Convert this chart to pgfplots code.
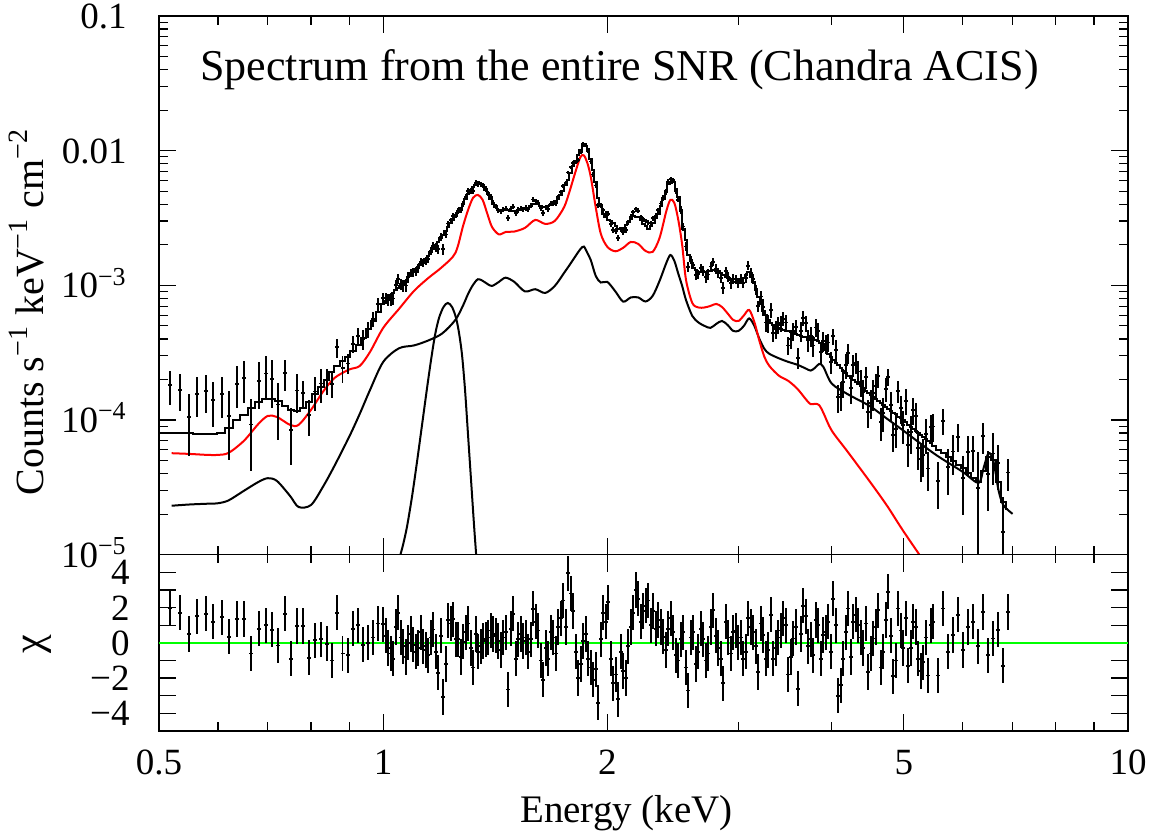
\documentclass[border=0pt]{standalone}
\usepackage{fontspec}
\setmainfont{Liberation Serif}
\usepackage{pgfplots}
\usepackage{pgfplotstable}
\pgfplotsset{compat=1.18}
\definecolor{pgred}{RGB}{255,0,0}
\definecolor{pggreen}{RGB}{0,255,0}

% data bins: energy, data, error, total model (step), chi
\pgfplotstableread{
E y ey m chi
0.517 1.809e-4 5.19e-5 7.98e-5 1.95
0.534 1.676e-4 5.17e-5 7.96e-5 1.7
0.549 1.053e-4 5.17e-5 7.95e-5 0.5
0.563 1.564e-4 5.15e-5 7.92e-5 1.5
0.578 1.635e-4 5.13e-5 7.89e-5 1.65
0.591 1.410e-4 5.15e-5 7.92e-5 1.2
0.607 1.558e-4 5.21e-5 8.02e-5 1.45
0.621 1.073e-4 5.68e-5 8.74e-5 0.35
0.636 1.864e-4 6.45e-5 9.93e-5 1.35
0.650 2.046e-4 7.09e-5 1.09e-4 1.35
0.665 9.25e-5 5.09e-5 1.23e-4 -0.6
0.681 1.958e-4 7.48e-5 1.36e-4 0.8
0.696 2.217e-4 7.87e-5 1.43e-4 1.0
0.710 2.020e-4 7.87e-5 1.43e-4 0.75
0.723 1.302e-4 5.86e-5 1.39e-4 -0.15
0.738 2.230e-4 5.76e-5 1.28e-4 1.65
0.752 8.40e-5 3.78e-5 1.18e-4 -0.9
0.767 1.656e-4 5.22e-5 1.16e-4 0.95
0.781 1.581e-4 3.69e-5 1.23e-4 0.95
0.796 1.084e-4 3.25e-5 1.36e-4 -0.85
0.810 1.630e-4 4.68e-5 1.56e-4 0.15
0.825 1.866e-4 5.28e-5 1.76e-4 0.2
0.840 1.968e-4 4.33e-5 1.99e-4 -0.05
0.853 1.852e-4 4.07e-5 2.26e-4 -1.0
0.866 3.462e-4 5.54e-5 2.52e-4 1.7
0.882 2.429e-4 5.34e-5 2.75e-4 -0.6
0.896 2.627e-4 4.47e-5 2.94e-4 -0.7
0.910 3.669e-4 5.49e-5 3.23e-4 0.8
0.926 4.224e-4 6.14e-5 3.61e-4 1.0
0.940 4.00e-4 6.8e-5 4.07e-4 -0.1
0.955 4.71e-4 6.12e-5 4.71e-4 0.0
0.970 5.611e-4 7.02e-5 5.40e-4 0.3
0.985 7.258e-4 8.26e-5 6.35e-4 1.1
1.000 8.05e-4 7.28e-5 7.28e-4 1.06
1.0078 7.98e-4 7.67e-5 7.67e-4 0.4
1.0156 7.82e-4 8.06e-5 8.06e-4 -0.3
1.0235 7.91e-4 8.42e-5 8.42e-4 -0.6
1.0314 7.99e-4 8.78e-5 8.78e-4 -0.9
1.0394 9.99e-4 9.17e-5 9.17e-4 0.9
1.0475 1.120e-3 9.57e-5 9.57e-4 1.7
1.0556 1.018e-3 9.88e-5 9.88e-4 0.3
1.0638 1.000e-3 1.02e-4 1.02e-3 -0.2
1.0721 9.98e-4 1.09e-4 1.085e-3 -0.8
1.0804 1.15e-3 1.15e-4 1.15e-3 0.0
1.0888 1.242e-3 8.4e-5 1.20e-3 0.5
1.0972 1.251e-3 8.82e-5 1.26e-3 -0.1
1.1057 1.269e-3 9.2e-5 1.315e-3 -0.5
1.1143 1.341e-3 9.59e-5 1.37e-3 -0.3
1.1229 1.490e-3 1.0e-4 1.43e-3 0.6
1.1317 1.469e-3 1.04e-4 1.49e-3 -0.2
1.1405 1.526e-3 1.10e-4 1.57e-3 -0.4
1.1493 1.569e-3 1.16e-4 1.65e-3 -0.7
1.1582 1.792e-3 1.23e-4 1.755e-3 0.3
1.1672 1.959e-3 1.30e-4 1.86e-3 0.76
1.1763 1.911e-3 1.39e-4 1.98e-3 -0.5
1.1854 1.850e-3 1.47e-4 2.10e-3 -1.7
1.1946 2.298e-3 1.56e-4 2.235e-3 0.4
1.2039 1.860e-3 1.66e-4 2.37e-3 -3.07
1.2132 2.388e-3 1.27e-4 2.54e-3 -1.2
1.2226 2.883e-3 1.36e-4 2.71e-3 1.28
1.2321 3.044e-3 1.44e-4 2.885e-3 1.1
1.2417 3.265e-3 1.53e-4 3.06e-3 1.34
1.2513 3.318e-3 1.64e-4 3.285e-3 0.2
1.2610 3.545e-3 1.76e-4 3.51e-3 0.2
1.2708 3.614e-3 1.88e-4 3.765e-3 -0.8
1.2807 4.032e-3 2.01e-4 4.02e-3 0.06
1.2906 4.527e-3 2.20e-4 4.395e-3 0.6
1.3006 5.032e-3 2.39e-4 4.77e-3 1.1
1.3107 4.999e-3 2.54e-4 5.075e-3 -0.3
1.3209 5.003e-3 2.69e-4 5.38e-3 -1.4
1.3312 5.735e-3 2.80e-4 5.595e-3 0.5
1.3415 5.665e-3 2.91e-4 5.81e-3 -0.5
1.3519 5.614e-3 2.55e-4 5.665e-3 -0.2
1.3624 5.545e-3 2.48e-4 5.52e-3 0.1
1.3730 5.191e-3 2.32e-4 5.145e-3 0.2
1.3836 4.834e-3 2.15e-4 4.77e-3 0.3
1.3943 4.533e-3 1.98e-4 4.395e-3 0.7
1.4052 4.110e-3 1.81e-4 4.02e-3 0.5
1.4161 3.879e-3 1.71e-4 3.81e-3 0.4
1.4271 3.616e-3 1.62e-4 3.60e-3 0.1
1.4382 3.535e-3 1.62e-4 3.60e-3 -0.4
1.4493 3.649e-3 1.62e-4 3.60e-3 0.3
1.4605 3.697e-3 1.62e-4 3.60e-3 0.6
1.4719 3.171e-3 1.62e-4 3.60e-3 -2.65
1.4833 3.714e-3 1.61e-4 3.585e-3 0.8
1.4948 3.835e-3 1.61e-4 3.57e-3 1.65
1.5064 3.440e-3 1.61e-4 3.585e-3 -0.9
1.5181 3.632e-3 1.62e-4 3.60e-3 0.2
1.5299 3.712e-3 1.63e-4 3.63e-3 0.5
1.5418 3.676e-3 1.65e-4 3.66e-3 0.1
1.5538 3.760e-3 1.67e-4 3.71e-3 0.3
1.5658 3.675e-3 1.69e-4 3.76e-3 -0.5
1.5779 3.910e-3 1.74e-4 3.875e-3 0.2
1.5902 4.338e-3 1.80e-4 3.99e-3 1.94
1.6025 4.205e-3 1.80e-4 3.99e-3 1.2
1.6150 4.116e-3 1.80e-4 3.99e-3 0.7
1.6275 3.729e-3 1.76e-4 3.905e-3 -1.0
1.6402 3.459e-3 1.72e-4 3.82e-3 -2.1
1.6529 3.783e-3 1.73e-4 3.835e-3 -0.3
1.6657 3.694e-3 1.73e-4 3.85e-3 -0.9
1.6786 4.041e-3 1.77e-4 3.935e-3 0.6
1.6917 4.074e-3 1.81e-4 4.02e-3 0.3
1.7048 4.087e-3 1.89e-4 4.20e-3 -0.6
1.7180 4.518e-3 1.53e-4 4.38e-3 0.9
1.7313 4.930e-3 1.65e-4 4.70e-3 1.4
1.7448 5.442e-3 1.76e-4 5.02e-3 2.4
1.7583 5.715e-3 1.94e-4 5.54e-3 0.9
1.7720 6.896e-3 2.12e-4 6.06e-3 3.94
1.7857 7.516e-3 2.40e-4 6.845e-3 2.8
1.7996 8.111e-3 2.67e-4 7.63e-3 1.8
1.8136 8.273e-3 2.95e-4 8.42e-3 -0.5
1.8276 8.565e-3 3.22e-4 9.21e-3 -2.0
1.8418 9.772e-3 3.57e-4 1.02e-2 -1.2
1.8561 1.124e-2 3.92e-4 1.12e-2 0.1
1.8705 1.094e-2 3.76e-4 1.075e-2 0.5
1.8850 9.976e-3 3.61e-4 1.03e-2 -0.9
1.8996 8.316e-3 3.06e-4 8.745e-3 -1.4
1.9144 6.662e-3 2.52e-4 7.19e-3 -2.1
1.9293 5.519e-3 2.04e-4 5.825e-3 -1.5
1.9442 3.929e-3 1.56e-4 4.46e-3 -3.4
1.9593 3.945e-3 1.76e-4 3.91e-3 0.2
1.9745 3.617e-3 1.51e-4 3.36e-3 1.7
1.9898 3.394e-3 1.45e-4 3.22e-3 1.2
2.0053 3.399e-3 1.39e-4 3.08e-3 2.3
2.0209 2.859e-3 1.34e-4 2.98e-3 -0.9
2.0365 2.582e-3 1.30e-4 2.88e-3 -2.3
2.0523 2.536e-3 1.24e-4 2.76e-3 -1.8
2.0683 2.260e-3 1.19e-4 2.64e-3 -3.2
2.0843 2.595e-3 1.19e-4 2.655e-3 -0.5
2.1005 2.478e-3 1.20e-4 2.67e-3 -1.6
2.1168 2.562e-3 1.27e-4 2.815e-3 -2.0
2.1332 2.933e-3 1.33e-4 2.96e-3 -0.2
2.1498 3.231e-3 1.40e-4 3.105e-3 0.9
2.1665 3.499e-3 1.46e-4 3.25e-3 1.7
2.1833 3.672e-3 1.46e-4 3.235e-3 3.0
2.2002 3.582e-3 1.45e-4 3.22e-3 2.5
2.2173 3.204e-3 1.37e-4 3.04e-3 1.2
2.2345 3.092e-3 1.29e-4 2.86e-3 1.8
2.2518 3.010e-3 1.24e-4 2.75e-3 2.1
2.2693 2.925e-3 1.19e-4 2.64e-3 2.4
2.2869 2.900e-3 1.25e-4 2.775e-3 1.0
2.3047 3.146e-3 1.31e-4 2.91e-3 1.8
2.3226 3.274e-3 1.42e-4 3.16e-3 0.8
2.3406 3.609e-3 1.53e-4 3.41e-3 1.3
2.3588 4.053e-3 1.75e-4 3.895e-3 0.9
2.3771 4.449e-3 1.97e-4 4.38e-3 0.35
2.3955 4.930e-3 2.26e-4 5.02e-3 -0.4
2.4141 5.864e-3 2.55e-4 5.66e-3 0.8
2.4328 6.123e-3 2.59e-4 5.76e-3 1.4
2.4517 6.018e-3 2.64e-4 5.86e-3 0.6
2.4707 5.031e-3 2.34e-4 5.195e-3 -0.7
2.4899 4.326e-3 2.04e-4 4.53e-3 -1.0
2.5092 3.625e-3 2.50e-4 3.575e-3 0.2
2.5287 2.730e-3 1.83e-4 2.62e-3 0.6
2.5483 1.944e-3 1.51e-4 2.155e-3 -1.4
2.5681 1.371e-3 1.18e-4 1.69e-3 -2.7
2.5880 1.552e-3 1.06e-4 1.52e-3 0.3
2.6081 1.407e-3 9.45e-5 1.35e-3 0.6
2.6283 1.191e-3 9.1e-5 1.30e-3 -1.2
2.6487 1.206e-3 8.75e-5 1.25e-3 -0.5
2.6693 1.340e-3 1.07e-4 1.255e-3 0.8
2.6900 1.281e-3 1.07e-4 1.26e-3 0.2
2.7109 1.157e-3 1.08e-4 1.265e-3 -1.0
2.7319 1.205e-3 1.08e-4 1.27e-3 -0.6
2.7531 1.378e-3 1.09e-4 1.28e-3 0.9
2.7745 1.493e-3 1.10e-4 1.29e-3 1.85
2.7960 1.329e-3 1.09e-4 1.285e-3 0.4
2.8177 1.247e-3 1.09e-4 1.28e-3 -0.3
2.8396 1.141e-3 1.05e-4 1.235e-3 -0.9
2.8616 9.57e-4 1.01e-4 1.19e-3 -2.3
2.8838 1.278e-3 9.9e-5 1.16e-3 1.2
2.9062 1.159e-3 9.61e-5 1.13e-3 0.3
2.9288 1.039e-3 9.3e-5 1.095e-3 -0.6
2.9515 1.114e-3 9.01e-5 1.06e-3 0.6
2.9744 1.112e-3 8.9e-5 1.05e-3 0.7
2.9975 1.040e-3 8.84e-5 1.04e-3 0.0
3.0208 1.113e-3 9.2e-5 1.085e-3 0.3
3.0442 1.044e-3 9.61e-5 1.13e-3 -0.9
3.0678 1.139e-3 1.01e-4 1.19e-3 -0.5
3.0916 1.399e-3 1.06e-4 1.25e-3 1.4
3.1156 1.243e-3 9.8e-5 1.155e-3 0.9
3.1398 1.114e-3 9.01e-5 1.06e-3 0.6
3.1642 9.21e-4 7.96e-5 9.37e-4 -0.2
3.1887 6.99e-4 6.91e-5 8.13e-4 -1.65
3.2134 8.26e-4 8.76e-5 7.30e-4 1.1
3.2384 6.90e-4 9.69e-5 6.46e-4 0.45
3.2635 5.29e-4 7.93e-5 6.00e-4 -0.9
3.2888 5.23e-4 7.84e-5 5.54e-4 -0.4
3.3143 6.56e-4 7.94e-5 5.29e-4 1.6
3.3400 4.44e-4 6.66e-5 5.04e-4 -0.9
3.3659 4.72e-4 7.08e-5 4.935e-4 -0.3
3.3920 5.05e-4 7.25e-5 4.83e-4 0.3
3.4183 5.25e-4 7.13e-5 4.75e-4 0.7
3.4449 5.65e-4 7.01e-5 4.67e-4 1.4
3.4716 5.30e-4 6.92e-5 4.61e-4 1.0
3.4986 3.58e-4 5.37e-5 4.55e-4 -1.8
3.5257 3.99e-4 5.99e-5 4.47e-4 -0.8
3.5531 4.55e-4 6.59e-5 4.39e-4 0.25
3.5807 4.90e-4 6.48e-5 4.32e-4 0.9
3.6084 2.90e-4 5.21e-5 4.25e-4 -2.6
3.6364 4.58e-4 7.56e-5 4.20e-4 0.5
3.6646 5.72e-4 7.47e-5 4.15e-4 2.1
3.6930 5.22e-4 7.40e-5 4.11e-4 1.5
3.7217 3.93e-4 7.07e-5 4.07e-4 -0.2
3.7506 4.20e-4 7.29e-5 4.05e-4 0.2
3.7797 3.58e-4 6.44e-5 4.03e-4 -0.7
3.8090 4.87e-4 7.11e-5 3.95e-4 1.3
3.8386 4.57e-4 6.97e-5 3.87e-4 1.0
3.8684 3.19e-4 5.75e-5 3.71e-4 -0.9
3.8984 3.84e-4 6.39e-5 3.55e-4 0.45
3.9286 3.68e-4 5.99e-5 3.325e-4 0.6
3.9591 3.77e-4 5.58e-5 3.10e-4 1.2
3.9898 2.70e-4 4.86e-5 2.945e-4 -0.5
4.0208 4.19e-4 5.58e-5 2.79e-4 2.5
4.0520 3.30e-4 6.40e-5 2.665e-4 1.0
4.0834 1.48e-4 3.54e-5 2.54e-4 -3.0
4.1151 1.545e-4 3.71e-5 2.435e-4 -2.4
4.1470 1.92e-4 4.60e-5 2.33e-4 -0.9
4.1792 2.56e-4 5.36e-5 2.235e-4 0.6
4.2116 3.14e-4 5.14e-5 2.14e-4 1.95
4.2443 1.73e-4 4.16e-5 2.065e-4 -0.8
4.2772 2.56e-4 4.78e-5 1.99e-4 1.2
4.3104 2.66e-4 4.61e-5 1.92e-4 1.6
4.3438 2.29e-4 4.44e-5 1.85e-4 1.0
4.3775 1.91e-4 4.28e-5 1.785e-4 0.3
4.4115 1.60e-4 3.85e-5 1.72e-4 -0.3
4.4457 2.09e-4 3.97e-5 1.655e-4 1.1
4.4802 1.14e-4 2.73e-5 1.59e-4 -1.65
4.5150 1.34e-4 3.22e-5 1.535e-4 -0.6
4.5500 1.58e-4 4.14e-5 1.48e-4 0.25
4.5853 1.80e-4 4.02e-5 1.435e-4 0.9
4.6209 2.11e-4 3.89e-5 1.39e-4 1.85
4.6568 9.63e-5 2.70e-5 1.34e-4 -1.4
4.6929 1.13e-4 3.17e-5 1.29e-4 -0.5
4.7293 1.71e-4 3.50e-5 1.25e-4 1.3
4.7660 2.09e-4 3.03e-5 1.21e-4 2.9
4.8030 1.30e-4 3.28e-5 1.17e-4 0.4
4.8402 7.69e-5 1.92e-5 1.135e-4 -1.9
4.8778 8.59e-5 2.41e-5 1.10e-4 -1.0
4.9156 1.64e-4 2.97e-5 1.06e-4 1.95
4.9537 1.23e-4 2.88e-5 1.03e-4 0.7
4.9922 9.16e-5 2.56e-5 9.93e-5 -0.3
5.0309 1.39e-4 3.07e-5 9.60e-5 1.4
5.0700 6.54e-5 2.09e-5 9.26e-5 -1.3
5.1093 8.16e-5 2.61e-5 8.94e-5 -0.3
5.1490 1.19e-4 2.76e-5 8.62e-5 1.2
5.1890 1.07e-4 2.66e-5 8.32e-5 0.9
5.2292 6.23e-5 1.99e-5 8.02e-5 -0.9
5.2698 5.12e-5 1.64e-5 7.735e-5 -1.6
5.3106 5.51e-5 1.76e-5 7.45e-5 -1.1
5.3518 7.89e-5 2.30e-5 7.195e-5 0.3
5.3933 4.36e-5 1.40e-5 6.94e-5 -1.85
5.4352 8.84e-5 2.14e-5 6.70e-5 1.0
5.4773 8.94e-5 2.07e-5 6.46e-5 1.2
5.5626 3.54e-5 1.35e-5 6.03e-5 -1.85
5.6493 9.85e-5 2.15e-5 5.66e-5 1.95
5.7373 4.45e-5 1.69e-5 5.30e-5 -0.5
5.8267 5.83e-5 1.89e-5 4.98e-5 0.45
5.9174 7.51e-5 1.77e-5 4.67e-5 1.6
6.0096 3.70e-5 1.74e-5 4.39e-5 -0.4
6.1032 5.76e-5 1.90e-5 4.05e-5 0.9
6.1983 5.85e-5 1.76e-5 3.74e-5 1.2
6.2948 3.14e-5 2.60e-5 3.44e-5 -0.2
6.3929 7.56e-5 1.95e-5 4.15e-5 1.75
6.4925 3.99e-5 1.87e-5 5.30e-5 -0.7
6.5936 5.65e-5 2.38e-5 5.06e-5 0.25
6.6963 4.77e-5 1.74e-5 3.47e-5 0.75
6.8006 1.48e-5 1.20e-5 2.45e-5 -1.3
6.9066 4.07e-5 1.09e-5 2.17e-5 1.75
}\datatab

\pgfplotstableread{
E y
0.52 5.67e-5
0.55 5.60e-5
0.58 5.51e-5
0.6 5.51e-5
0.62 5.70e-5
0.65 7.00e-5
0.68 9.36e-5
0.7 1.073e-4
0.72 1.054e-4
0.75 9.20e-5
0.77 9.20e-5
0.8 1.19e-4
0.83 1.62e-4
0.86 2.05e-4
0.9 2.37e-4
0.93 2.52e-4
0.96 3.20e-4
1.0 4.83e-4
1.05 6.68e-4
1.1 9.09e-4
1.15 1.135e-3
1.2 1.37e-3
1.25 1.74e-3
1.28 2.76e-3
1.3 3.63e-3
1.32 4.46e-3
1.34 4.69e-3
1.36 4.31e-3
1.38 3.39e-3
1.4 2.71e-3
1.43 2.39e-3
1.46 2.49e-3
1.5 2.51e-3
1.55 2.67e-3
1.6 3.06e-3
1.65 2.86e-3
1.7 3.01e-3
1.75 3.82e-3
1.78 5.02e-3
1.81 6.83e-3
1.84 8.98e-3
1.86 9.21e-3
1.88 8.10e-3
1.9 6.38e-3
1.93 3.76e-3
1.96 2.41e-3
2.0 1.93e-3
2.05 1.79e-3
2.1 1.90e-3
2.15 2.10e-3
2.2 2.03e-3
2.25 1.80e-3
2.3 1.77e-3
2.35 2.25e-3
2.4 3.57e-3
2.43 4.31e-3
2.46 4.09e-3
2.49 3.06e-3
2.52 2.00e-3
2.55 1.10e-3
2.6 7.40e-4
2.65 6.85e-4
2.7 6.85e-4
2.75 7.03e-4
2.8 7.28e-4
2.85 6.91e-4
2.9 6.19e-4
2.95 5.54e-4
3.0 5.44e-4
3.05 5.98e-4
3.1 6.57e-4
3.15 5.35e-4
3.2 3.87e-4
3.25 2.94e-4
3.3 2.52e-4
3.4 2.13e-4
3.5 1.95e-4
3.6 1.70e-4
3.7 1.41e-4
3.75 1.31e-4
3.8 1.32e-4
3.85 1.29e-4
3.9 1.13e-4
4.0 8.37e-5
4.2 5.85e-5
4.5 3.50e-5
4.75 2.30e-5
5.0 1.48e-5
5.5 6.84e-6
6.0 3.34e-6
}\redtab

\pgfplotstableread{
E y
0.52 2.31e-5
0.55 2.36e-5
0.58 2.39e-5
0.6 2.41e-5
0.62 2.53e-5
0.65 2.98e-5
0.68 3.47e-5
0.7 3.70e-5
0.72 3.53e-5
0.75 2.73e-5
0.77 2.26e-5
0.8 2.34e-5
0.83 3.19e-5
0.86 4.56e-5
0.9 7.49e-5
0.93 1.11e-4
0.96 1.67e-4
1.0 2.70e-4
1.05 3.41e-4
1.1 3.58e-4
1.15 3.90e-4
1.2 4.39e-4
1.25 5.54e-4
1.28 7.09e-4
1.3 8.63e-4
1.32 1.007e-3
1.34 1.11e-3
1.36 1.08e-3
1.38 1.024e-3
1.4 9.90e-4
1.43 1.06e-3
1.46 1.14e-3
1.5 1.06e-3
1.55 9.01e-4
1.6 9.36e-4
1.65 8.78e-4
1.7 9.90e-4
1.75 1.24e-3
1.78 1.42e-3
1.81 1.63e-3
1.84 1.86e-3
1.86 1.94e-3
1.88 1.74e-3
1.9 1.54e-3
1.93 1.17e-3
1.96 1.05e-3
2.0 1.06e-3
2.05 9.01e-4
2.1 7.57e-4
2.15 8.13e-4
2.2 8.13e-4
2.25 7.59e-4
2.3 8.34e-4
2.35 1.08e-3
2.4 1.47e-3
2.43 1.68e-3
2.46 1.52e-3
2.49 1.22e-3
2.52 9.90e-4
2.55 7.79e-4
2.6 5.93e-4
2.65 5.30e-4
2.7 5.00e-4
2.75 4.83e-4
2.8 5.17e-4
2.85 5.44e-4
2.9 5.08e-4
2.95 4.59e-4
3.0 4.59e-4
3.05 5.00e-4
3.1 5.68e-4
3.15 5.00e-4
3.2 4.00e-4
3.25 3.37e-4
3.3 3.10e-4
3.4 2.87e-4
3.5 2.70e-4
3.6 2.57e-4
3.7 2.40e-4
3.75 2.33e-4
3.8 2.44e-4
3.85 2.61e-4
3.9 2.48e-4
4.0 1.87e-4
4.2 1.56e-4
4.5 1.27e-4
4.75 1.02e-4
5.0 8.30e-5
5.5 5.60e-5
6.0 4.12e-5
6.3 3.41e-5
6.4 4.41e-5
6.5 5.70e-5
6.6 4.89e-5
6.7 3.03e-5
6.8 2.34e-5
7.0 2.01e-5
}\blacktab

\pgfplotstableread{
E y
1.0500 9.15e-6
1.0631 1.18e-5
1.0763 1.61e-5
1.0931 2.69e-5
1.1102 4.89e-5
1.1276 9.20e-5
1.1452 1.73e-4
1.1594 2.79e-4
1.1738 4.28e-4
1.1884 5.73e-4
1.2050 6.91e-4
1.2208 7.40e-4
1.2371 6.91e-4
1.2525 5.73e-4
1.2642 4.43e-4
1.2760 3.04e-4
1.2879 1.67e-4
1.2999 7.75e-5
1.3120 3.59e-5
1.3242 1.66e-5
1.3345 9.15e-6
}\gausstab

\begin{document}
\begin{tikzpicture}
\path[use as bounding box] (0,0) rectangle (579pt,419.5pt);

\begin{axis}[at={(79.5pt,142.15pt)}, anchor=south west,
  scale only axis, width=484.5pt, height=269.35pt,
  xmode=log, ymode=log, xmin=0.5, xmax=10, ymin=1e-5, ymax=0.1,
  xtick={0.5,1,2,5,10},
  minor xtick={0.6,0.7,0.8,0.9,3,4,6,7,8,9},
  xticklabel=\empty,
  ytick={1e-5,1e-4,1e-3,1e-2,1e-1},
  yticklabels={10\textsuperscript{−5},10\textsuperscript{−4},10\textsuperscript{−3},0.01,0.1},
  minor ytick={2e-5,3e-5,4e-5,5e-5,6e-5,7e-5,8e-5,9e-5,2e-4,3e-4,4e-4,5e-4,6e-4,7e-4,8e-4,9e-4,2e-3,3e-3,4e-3,5e-3,6e-3,7e-3,8e-3,9e-3,0.02,0.03,0.04,0.05,0.06,0.07,0.08,0.09},
  tick align=inside, tick pos=both,
  major tick length=8.5pt, minor tick length=4.4pt,
  tick style={black, line width=0.6pt},
  axis line style={line width=0.8pt},
  tick label style={font=\fontsize{18.5}{22}\selectfont},
  yticklabel style={anchor=base east, inner sep=0pt, xshift=-16pt, yshift=-6.25pt},
]
\addplot[black, line width=1pt, smooth] table[x=E,y=y] {\gausstab};
\addplot[black, line width=1pt, smooth] table[x=E,y=y] {\blacktab};
\addplot[pgred, line width=1pt, smooth] table[x=E,y=y] {\redtab};
\addplot[black, line width=1pt] coordinates {(0.5,7.98e-5) (0.517,7.98e-5)};
\addplot[black, line width=1pt, const plot mark mid] table[x=E,y=m] {\datatab};
\addplot[black, only marks, mark=*, mark size=0pt, mark options={draw=none, fill=none},
  error bars/.cd, x dir=both, x fixed relative=0.006, y dir=both, y explicit,
  error mark=none, error bar style={line width=0.9pt, black}]
  table[x=E,y=y,y error=ey] {\datatab};
\node[anchor=base west, inner sep=0pt, font=\fontsize{22}{26}\selectfont] at (rel axis cs:0.0423,0.881) {Spectrum from the entire SNR (Chandra ACIS)};
\end{axis}

\begin{axis}[at={(79.5pt,54pt)}, anchor=south west,
  scale only axis, width=484.5pt, height=88.15pt,
  xmode=log, xmin=0.5, xmax=10, ymin=-5, ymax=5,
  xtick={0.5,1,2,5,10},
  minor xtick={0.6,0.7,0.8,0.9,3,4,6,7,8,9},
  xticklabels={0.5,1,2,5,10},
  ytick={-4,-3,-2,-1,0,1,2,3,4},
  yticklabels={−4,,−2,,0,,2,,4},
  tick align=inside, tick pos=both,
  major tick length=8.5pt, minor tick length=4.4pt,
  tick style={black, line width=0.6pt},
  axis line style={line width=0.8pt},
  tick label style={font=\fontsize{18.5}{22}\selectfont},
  xticklabel style={anchor=north, inner sep=0pt, yshift=-9.5pt},
  yticklabel style={anchor=base east, inner sep=0pt, xshift=-14.5pt, yshift=-6.25pt},
]
\addplot[pggreen, line width=1.1pt] coordinates {(0.5,0) (10,0)};
\addplot[black, only marks, mark=*, mark size=0pt, mark options={draw=none, fill=none},
  error bars/.cd, x dir=both, x fixed relative=0.006, y dir=both, y fixed=1,
  error mark=none, error bar style={line width=0.9pt, black}]
  table[x=E,y=chi] {\datatab};
\end{axis}

\node[anchor=base, inner sep=0pt, font=\fontsize{19.5}{23}\selectfont] at (313.25pt,8.25pt) {Energy (keV)};
\node[rotate=90, anchor=base, inner sep=0pt, font=\fontsize{20}{24}\selectfont] at (21.5pt,263.5pt) {Counts s\textsuperscript{−1} keV\textsuperscript{−1} cm\textsuperscript{−2}};
\node[rotate=90, anchor=base, inner sep=0pt, font=\fontsize{21}{24}\selectfont] at (21pt,97.5pt) {χ};
\end{tikzpicture}
\end{document}
